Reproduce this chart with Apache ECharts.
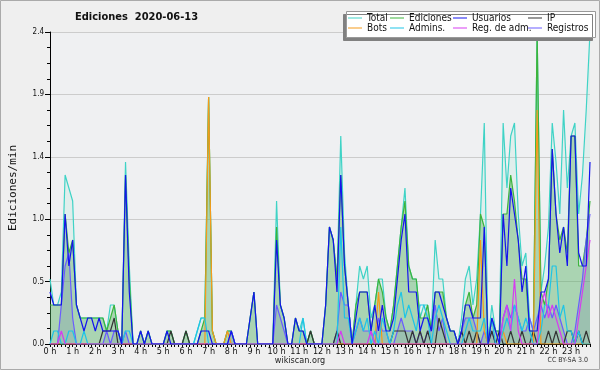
<!DOCTYPE html>
<html>
<head>
<meta charset="utf-8">
<script src="https://cdn.jsdelivr.net/npm/echarts@6/dist/echarts.min.js"></script>
<style>
  html, body { margin: 0; padding: 0; background: #efefef; }
  #chart { width: 600px; height: 370px; }
</style>
</head>
<body>
<div id="chart"></div>
<script>
// ediciones por minuto, tramos de 10 minutos (6 por hora)
var hourLabels = ['0 h','1 h','2 h','3 h','4 h','5 h','6 h','7 h','8 h','9 h','10 h','11 h',
  '12 h','13 h','14 h','15 h','16 h','17 h','18 h','19 h','20 h','21 h','22 h','23 h'];
var yTicks = [0, 0.48, 0.96, 1.44, 1.92, 2.4];

var total = [
  0.5,0.3,0.3,0.4,1.3,1.2,  1.1,0.3,0.2,0.2,0.2,0.2,  0.2,0.2,0.2,0.1,0.3,0.3,  0.1,0.0,1.4,0.6,0.0,0.0,
  0.1,0.0,0.1,0.0,0.0,0.0,  0.0,0.1,0.1,0.0,0.0,0.0,  0.1,0.0,0.0,0.1,0.2,0.2,  1.9,0.1,0.0,0.0,0.0,0.1,
  0.1,0.0,0.0,0.0,0.0,0.2,  0.4,0.0,0.0,0.0,0.0,0.0,  1.1,0.3,0.2,0.0,0.0,0.2,  0.1,0.2,0.0,0.1,0.0,0.0,
  0.0,0.3,0.9,0.8,0.5,1.6,  0.7,0.3,0.0,0.3,0.6,0.5,  0.6,0.2,0.3,0.5,0.5,0.2,  0.1,0.3,0.6,0.9,1.2,0.6,
  0.5,0.5,0.2,0.3,0.3,0.1,  0.8,0.5,0.5,0.2,0.1,0.1,  0.0,0.2,0.5,0.6,0.3,0.5,  1.0,1.7,0.0,0.3,0.1,0.1,
  1.7,1.2,1.6,1.7,1.0,0.6,  0.7,0.2,0.1,2.4,0.4,0.6,  0.9,1.7,1.4,1.0,1.8,1.2,  1.6,1.7,1.0,1.3,1.8,2.4
];
var ediciones = [
  0.3,0.3,0.3,0.3,1.0,0.7,  0.8,0.3,0.2,0.2,0.2,0.2,  0.2,0.2,0.2,0.1,0.2,0.3,  0.1,0.0,1.3,0.5,0.0,0.0,
  0.1,0.0,0.1,0.0,0.0,0.0,  0.0,0.1,0.1,0.0,0.0,0.0,  0.1,0.0,0.0,0.0,0.1,0.2,  1.9,0.1,0.0,0.0,0.0,0.1,
  0.1,0.0,0.0,0.0,0.0,0.2,  0.4,0.0,0.0,0.0,0.0,0.0,  0.9,0.3,0.2,0.0,0.0,0.2,  0.1,0.1,0.0,0.1,0.0,0.0,
  0.0,0.3,0.9,0.8,0.5,1.3,  0.6,0.3,0.0,0.3,0.4,0.4,  0.4,0.1,0.3,0.5,0.4,0.2,  0.1,0.3,0.6,0.9,1.1,0.6,
  0.5,0.5,0.2,0.2,0.3,0.1,  0.4,0.4,0.4,0.2,0.1,0.1,  0.0,0.1,0.3,0.4,0.2,0.3,  1.0,0.9,0.0,0.2,0.1,0.1,
  1.0,1.0,1.3,1.1,0.8,0.5,  0.5,0.1,0.1,2.4,0.4,0.3,  0.5,1.5,1.0,0.8,0.9,0.7,  1.6,1.6,0.6,0.6,0.8,1.1
];
var usuarios = [
  0.4,0.3,0.3,0.3,1.0,0.6,  0.8,0.3,0.2,0.1,0.2,0.2,  0.1,0.2,0.1,0.1,0.1,0.1,  0.1,0.0,1.3,0.4,0.0,0.0,
  0.1,0.0,0.1,0.0,0.0,0.0,  0.0,0.1,0.0,0.0,0.0,0.0,  0.0,0.0,0.0,0.0,0.1,0.1,  0.1,0.0,0.0,0.0,0.0,0.0,
  0.1,0.0,0.0,0.0,0.0,0.2,  0.4,0.0,0.0,0.0,0.0,0.0,  0.8,0.3,0.2,0.0,0.0,0.2,  0.1,0.1,0.0,0.0,0.0,0.0,
  0.0,0.3,0.9,0.8,0.4,1.3,  0.6,0.3,0.0,0.2,0.4,0.4,  0.4,0.1,0.3,0.1,0.3,0.1,  0.1,0.2,0.5,0.8,1.0,0.4,
  0.4,0.4,0.1,0.2,0.2,0.1,  0.4,0.4,0.3,0.2,0.1,0.1,  0.0,0.1,0.3,0.3,0.2,0.2,  0.2,0.9,0.0,0.2,0.1,0.0,
  1.0,0.6,1.2,1.0,0.8,0.4,  0.6,0.1,0.1,0.1,0.4,0.4,  0.5,1.5,1.0,0.7,0.9,0.6,  1.6,1.6,0.7,0.6,0.6,1.4
];
var ip = [
  0,0,0,0,0,0,  0,0,0,0,0,0,  0,0,0.1,0.1,0.1,0.2,  0,0,0,0,0,0,
  0,0,0,0,0,0,  0,0,0.1,0,0,0,  0.1,0,0,0,0,0,  0,0,0,0,0,0,
  0,0,0,0,0,0,  0,0,0,0,0,0,  0,0,0,0,0,0,  0,0,0,0.1,0,0,
  0,0,0,0,0.1,0,  0,0,0,0,0,0,  0,0,0,0,0,0,  0,0.1,0.1,0.1,0.1,0,
  0.1,0,0.1,0,0.1,0,  0,0.2,0.1,0,0,0,  0,0.1,0,0.1,0,0.1,  0,0,0,0.1,0,0.1,
  0,0,0.1,0,0,0.1,  0,0,0.1,0,0,0,  0.1,0,0.1,0,0,0.1,  0.1,0,0.1,0,0.1,0
];
var bots = [
  0,0,0,0,0,0,  0,0,0,0,0,0,  0,0,0,0,0,0,  0,0,0,0,0,0,
  0,0,0,0,0,0,  0,0,0,0,0,0,  0,0,0,0,0,0,  1.9,0.1,0,0,0,0.1,
  0,0,0,0,0,0,  0,0,0,0,0,0,  0,0,0,0,0,0,  0,0,0,0,0,0,
  0,0,0,0,0,0,  0,0,0,0,0,0,  0,0,0,0.4,0,0,  0,0,0,0,0,0,
  0,0,0,0,0,0,  0,0,0,0,0,0,  0,0,0,0,0,0,  0.8,0.1,0,0,0,0,
  0.1,0,0,0,0,0,  0,0,0,1.8,0,0,  0,0,0,0,0,0,  0,0,0,0,0,0
];
var admins = [
  0,0.1,0.1,0,0,0.1,  0.1,0,0,0.1,0,0,  0,0,0,0,0,0,  0,0,0.1,0.1,0,0,
  0,0,0,0,0,0,  0,0,0,0,0,0,  0,0,0,0.1,0.2,0.2,  0,0,0,0,0,0,
  0,0,0,0,0,0,  0,0,0,0,0,0,  0,0,0,0,0,0,  0,0.2,0,0,0,0,
  0,0,0,0,0,0.9,  0.2,0.2,0,0.1,0.2,0.1,  0.2,0,0.1,0,0.2,0.1,  0,0.1,0.3,0.4,0.2,0.3,
  0.2,0.1,0.3,0.3,0.2,0,  0.2,0.3,0.2,0.1,0,0,  0,0,0.1,0.2,0.1,0.1,  0.1,0.2,0,0.2,0,0,
  0.1,0.2,0.1,0.3,0.2,0.1,  0.2,0.1,0,0,0.1,0.3,  0.3,0.6,0.6,0.2,0.3,0.1,  0.1,0,0.1,0,0,0
];
var regAdm = [
  0,0,0,0.1,0,0,  0,0,0,0,0,0,  0,0,0,0,0,0,  0,0,0,0,0,0,
  0,0,0,0,0,0,  0,0,0,0,0,0,  0,0,0,0,0,0,  0,0,0,0,0,0,
  0,0,0,0,0,0,  0,0,0,0,0,0,  0,0,0,0,0,0,  0,0,0,0,0,0,
  0,0,0,0,0,0.1,  0,0,0,0,0,0,  0,0.1,0,0,0,0,  0,0,0,0,0,0,
  0,0,0,0,0,0,  0,0,0,0,0,0,  0,0,0,0,0,0,  0,0,0,0,0,0,
  0.2,0.3,0.1,0.5,0.1,0,  0,0,0,0,0.3,0.4,  0.2,0.3,0.2,0.1,0,0,  0,0,0.2,0.4,0.6,0.8
];
var registros = [
  0,0,0,0.3,0.6,0.7,  0.2,0,0,0,0,0,  0,0,0,0.1,0,0.1,  0.1,0,0.1,0,0,0,
  0,0,0,0,0,0,  0,0,0,0,0,0,  0,0,0,0,0,0,  0,0,0,0,0,0,
  0.1,0,0,0,0,0,  0,0,0,0,0,0,  0.3,0.2,0.1,0,0,0,  0,0,0,0,0,0,
  0,0,0,0,0.1,0.4,  0.3,0.3,0,0.1,0.2,0.1,  0.1,0.1,0,0.2,0.1,0.1,  0,0,0.1,0.2,0.1,0.1,
  0.1,0,0.1,0,0.1,0.1,  0.3,0.1,0.2,0,0,0,  0,0.1,0.2,0.2,0.2,0.1,  0,0.1,0,0.1,0,0,
  0.2,0.3,0.2,0.3,0.2,0.1,  0.1,0.2,0.1,0.2,0.3,0.2,  0.3,0.2,0.3,0.2,0.1,0.0,  0.0,0.1,0.3,0.5,0.8,1.0
];

// categorias: un tramo cada 10 minutos
var slots = [];
for (var h = 0; h < 24; h++) {
  for (var m = 0; m < 6; m++) slots.push(h + ':' + m + '0');
}

var FONT = "'DejaVu Sans Condensed', 'Liberation Sans Narrow', 'DejaVu Sans'";

function makeLine(name, data, color, opt) {
  return echarts.util.merge({
    type: 'line',
    name: name,
    data: data,
    symbol: 'none',
    animation: false,
    color: color,
    itemStyle: { color: color },
    lineStyle: { color: color, width: 1.2 }
  }, opt || {}, true);
}

function makeLegend(left, names) {
  return {
    orient: 'vertical',
    left: left,
    top: 13,
    padding: 0,
    itemGap: 0,
    itemWidth: 14,
    itemHeight: 1,
    icon: 'rect',
    z: 20,
    selectedMode: false,
    textStyle: { fontFamily: FONT, fontSize: 10, color: '#111', lineHeight: 10 },
    data: names
  };
}

var chart = echarts.init(document.getElementById('chart'));
var option = {
  backgroundColor: '#efefef',
  animation: false,
  title: {
    text: 'Ediciones  2020-06-13',
    left: 75,
    top: 12,
    padding: 0,
    textStyle: { fontFamily: FONT, fontSize: 11, fontWeight: 'bold', color: '#111' }
  },
  legend: [
    makeLegend(348, ['Total', 'Bots']),
    makeLegend(390, ['Ediciones', 'Admins.']),
    makeLegend(453, ['Usuarios', 'Reg. de adm.']),
    makeLegend(528, ['IP', 'Registros'])
  ],
  graphic: [
    { type: 'rect', z: 100, silent: true, shape: { x: 0.5, y: 0.5, width: 599, height: 369 },
      style: { fill: 'none', stroke: '#aaaaaa', lineWidth: 1 } },
    { type: 'rect', z: 10, silent: true, shape: { x: 346.5, y: 11.5, width: 249, height: 26 },
      style: { fill: '#ffffff', stroke: '#999999', lineWidth: 1,
        shadowColor: '#808080', shadowOffsetX: -3, shadowOffsetY: 3, shadowBlur: 0 } },
    { type: 'text', left: 'center', top: 356, silent: true,
      style: { text: 'wikiscan.org', fontFamily: FONT, fontSize: 9, fill: '#222' } },
    { type: 'text', right: 12, top: 357, silent: true,
      style: { text: 'CC BY-SA 3.0', fontFamily: FONT, fontSize: 7, fill: '#333' } }
  ],
  grid: { left: 46, right: 10, top: 32, bottom: 26, show: true, backgroundColor: '#eff0f2', borderWidth: 0 },
  xAxis: {
    type: 'category',
    data: slots,
    boundaryGap: false,
    axisLine: { lineStyle: { color: '#000', width: 1 } },
    axisTick: { interval: 0, length: 3, lineStyle: { color: '#000' } },
    axisLabel: {
      interval: 5,
      margin: 3,
      fontFamily: FONT, fontSize: 9, color: '#111',
      formatter: function (v, i) { return hourLabels[i / 6]; }
    },
    splitLine: { show: false }
  },
  yAxis: {
    type: 'value',
    min: yTicks[0],
    max: yTicks[yTicks.length - 1],
    interval: yTicks[1],
    name: 'Ediciones/min',
    nameLocation: 'middle',
    nameGap: 31,
    nameTextStyle: { fontFamily: 'DejaVu Sans Mono', fontSize: 11, color: '#111' },
    axisLine: { show: true, lineStyle: { color: '#000', width: 1 } },
    axisTick: { show: true, length: 5, lineStyle: { color: '#000' } },
    minorTick: { show: true, splitNumber: 4, length: 3, lineStyle: { color: '#000' } },
    axisLabel: {
      margin: 6, fontFamily: FONT, fontSize: 8, color: '#111',
      formatter: function (v) { return v.toFixed(1); }
    },
    splitLine: { lineStyle: { color: '#cccccc', width: 1 } }
  },
  series: [
    makeLine('Total', total, '#3fd3c6', { areaStyle: { color: 'rgba(120,220,200,0.18)' } }),
    makeLine('Ediciones', ediciones, '#3cb43c', { areaStyle: { color: 'rgba(70,165,70,0.5)' } }),
    makeLine('Registros', registros, '#6a5cff', { areaStyle: { color: 'rgba(60,60,170,0.18)' } }),
    makeLine('IP', ip, '#333333'),
    makeLine('Bots', bots, '#f59a1a'),
    makeLine('Admins.', admins, '#1ec4e6'),
    makeLine('Reg. de adm.', regAdm, '#d63cf0'),
    makeLine('Usuarios', usuarios, '#1414ee')
  ]
};
chart.setOption(option);
</script>
</body>
</html>
